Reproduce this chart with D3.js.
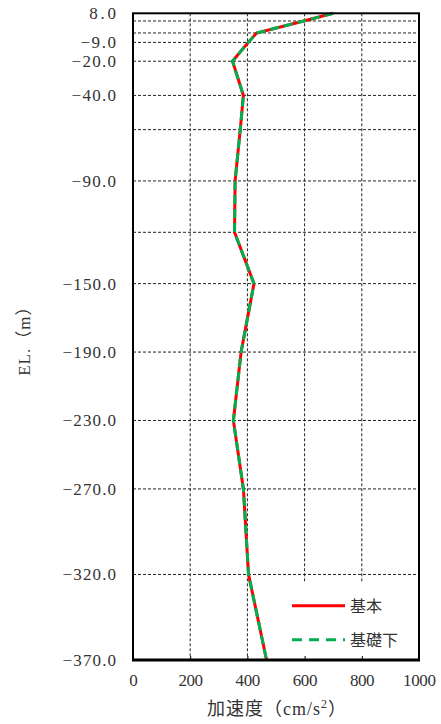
<!DOCTYPE html>
<html>
<head>
<meta charset="utf-8">
<script src="https://cdn.jsdelivr.net/npm/d3@7"></script>
<style>
  body { margin: 0; background: #fff; }
  svg text { font-family: "Liberation Serif", "Noto Sans CJK JP", serif; fill: #333; }
</style>
</head>
<body>
<script>
// Acceleration profile along elevation (two cases overlap almost exactly).

var width = 441,
    height = 724,
    margin = {top: 13.3, right: 22, bottom: 64, left: 133};

// elevation levels (m) - every level gets a grid line
var levels = [8.0, 3.5, -3.5, -9.0, -20.0, -40.0, -60.0, -90.0, -120.0, -150.0,
              -190.0, -230.0, -270.0, -320.0, -370.0];
// levels that carry a tick label
var labeledLevels = [8.0, -9.0, -20.0, -40.0, -90.0, -150.0, -190.0, -230.0,
                     -270.0, -320.0, -370.0];
// acceleration (cm/s2) at each level
var kihon     = [700, 597, 432, 403, 348, 386, 375, 357, 355, 423, 378, 351, 386, 404, 467];
var kisoShita = [700, 597, 432, 403, 348, 386, 375, 357, 355, 423, 378, 351, 386, 404, 467];
var xTicks = [0, 200, 400, 600, 800, 1000];
var seriesNames = ['基本', '基礎下'];

var w = width - margin.left - margin.right,
    h = height - margin.top - margin.bottom;

var svg = d3.select('body').append('svg')
    .attr('width', width)
    .attr('height', height);

var g = svg.append('g')
    .attr('transform', 'translate(' + margin.left + ',' + margin.top + ')');

var xs = d3.scaleLinear().domain([0, 1000]).range([0, w]);
var ys = d3.scaleLinear().domain([8, -370]).range([0, h]);

// grid
var grid = g.append('g');
grid.selectAll('.hgrid')
    .data(levels.slice(1))
    .enter()
    .append('line')
    .attr('x1', 0)
    .attr('x2', w)
    .attr('y1', function(d) { return ys(d); })
    .attr('y2', function(d) { return ys(d); })
    .style('stroke', '#222')
    .style('stroke-width', 1)
    .style('stroke-dasharray', '3,2');
grid.selectAll('.vgrid')
    .data(xTicks.slice(1, -1))
    .enter()
    .append('line')
    .attr('x1', function(d) { return xs(d); })
    .attr('x2', function(d) { return xs(d); })
    .attr('y1', 0)
    .attr('y2', h)
    .style('stroke', '#222')
    .style('stroke-width', 1)
    .style('stroke-dasharray', '3,2');

// legend background hides the grid behind it
var legX = xs(480), legY = ys(-325);
g.append('rect')
    .attr('x', legX)
    .attr('y', legY)
    .attr('width', w - legX)
    .attr('height', h - legY)
    .style('fill', '#fff');

// lines
var line = function(vals) {
    return d3.line()
        .x(function(d, i) { return xs(vals[i]); })
        .y(function(d) { return ys(d); })(levels);
};
g.append('path')
    .attr('d', line(kihon))
    .style('fill', 'none')
    .style('stroke', '#ff0000')
    .style('stroke-width', 3);
g.append('path')
    .attr('d', line(kisoShita))
    .style('fill', 'none')
    .style('stroke', '#00b050')
    .style('stroke-width', 3)
    .style('stroke-dasharray', '9,5');

// axes
var fmt = d3.format('.1f');
var yAxis = g.append('g')
    .call(d3.axisLeft(ys).tickValues(labeledLevels).tickSize(0).tickPadding(17).tickFormat(fmt));
yAxis.select('.domain').remove();
yAxis.selectAll('text')
    .style('font-size', '17px')
    .attr('textLength', function(d) { return fmt(d).length * 8.9; })
    .attr('lengthAdjust', 'spacing');

var xAxis = g.append('g')
    .attr('transform', 'translate(0,' + h + ')')
    .call(d3.axisBottom(xs).tickValues(xTicks).tickFormat(d3.format('d'))
        .tickSizeInner(-4).tickSizeOuter(0).tickPadding(14));
xAxis.select('.domain').remove();
xAxis.selectAll('line').style('stroke', '#000');
xAxis.selectAll('text')
    .style('font-size', '17px')
    .attr('textLength', function(d) { return String(d).length * 8.2; })
    .attr('lengthAdjust', 'spacing');

// frame
g.append('rect')
    .attr('width', w)
    .attr('height', h)
    .style('fill', 'none')
    .style('stroke', '#000')
    .style('stroke-width', 2);
g.append('line')
    .attr('x1', -1).attr('x2', w + 1)
    .attr('y1', h).attr('y2', h)
    .style('stroke', '#000')
    .style('stroke-width', 3);

// legend
var leg = g.append('g')
    .attr('transform', 'translate(' + (xs(556)) + ',' + ys(-338.3) + ')');
seriesNames.forEach(function(name, i) {
    var item = leg.append('g').attr('transform', 'translate(0,' + (i * 34) + ')');
    item.append('line')
        .attr('x1', 0).attr('x2', 53)
        .style('stroke', i === 0 ? '#ff0000' : '#00b050')
        .style('stroke-width', 3)
        .style('stroke-dasharray', i === 0 ? null : '10,7');
    item.append('text')
        .attr('x', 58)
        .attr('dy', '0.38em')
        .style('font-size', '16px')
        .text(name);
});

// axis titles
svg.append('text')
    .attr('transform', 'translate(30,' + (margin.top + h / 2) + ') rotate(-90)')
    .attr('text-anchor', 'middle')
    .style('font-size', '17px')
    .style('letter-spacing', '1px')
    .text('EL.（m）');

var xt = svg.append('text')
    .attr('x', margin.left + w / 2 + 1)
    .attr('y', 715)
    .attr('text-anchor', 'middle')
    .style('font-size', '18px')
    .style('letter-spacing', '1px');
xt.append('tspan').text('加速度（cm/s');
xt.append('tspan').attr('dy', -7).style('font-size', '12px').text('2');
xt.append('tspan').attr('dy', 7).text('）');
</script>
</body>
</html>
